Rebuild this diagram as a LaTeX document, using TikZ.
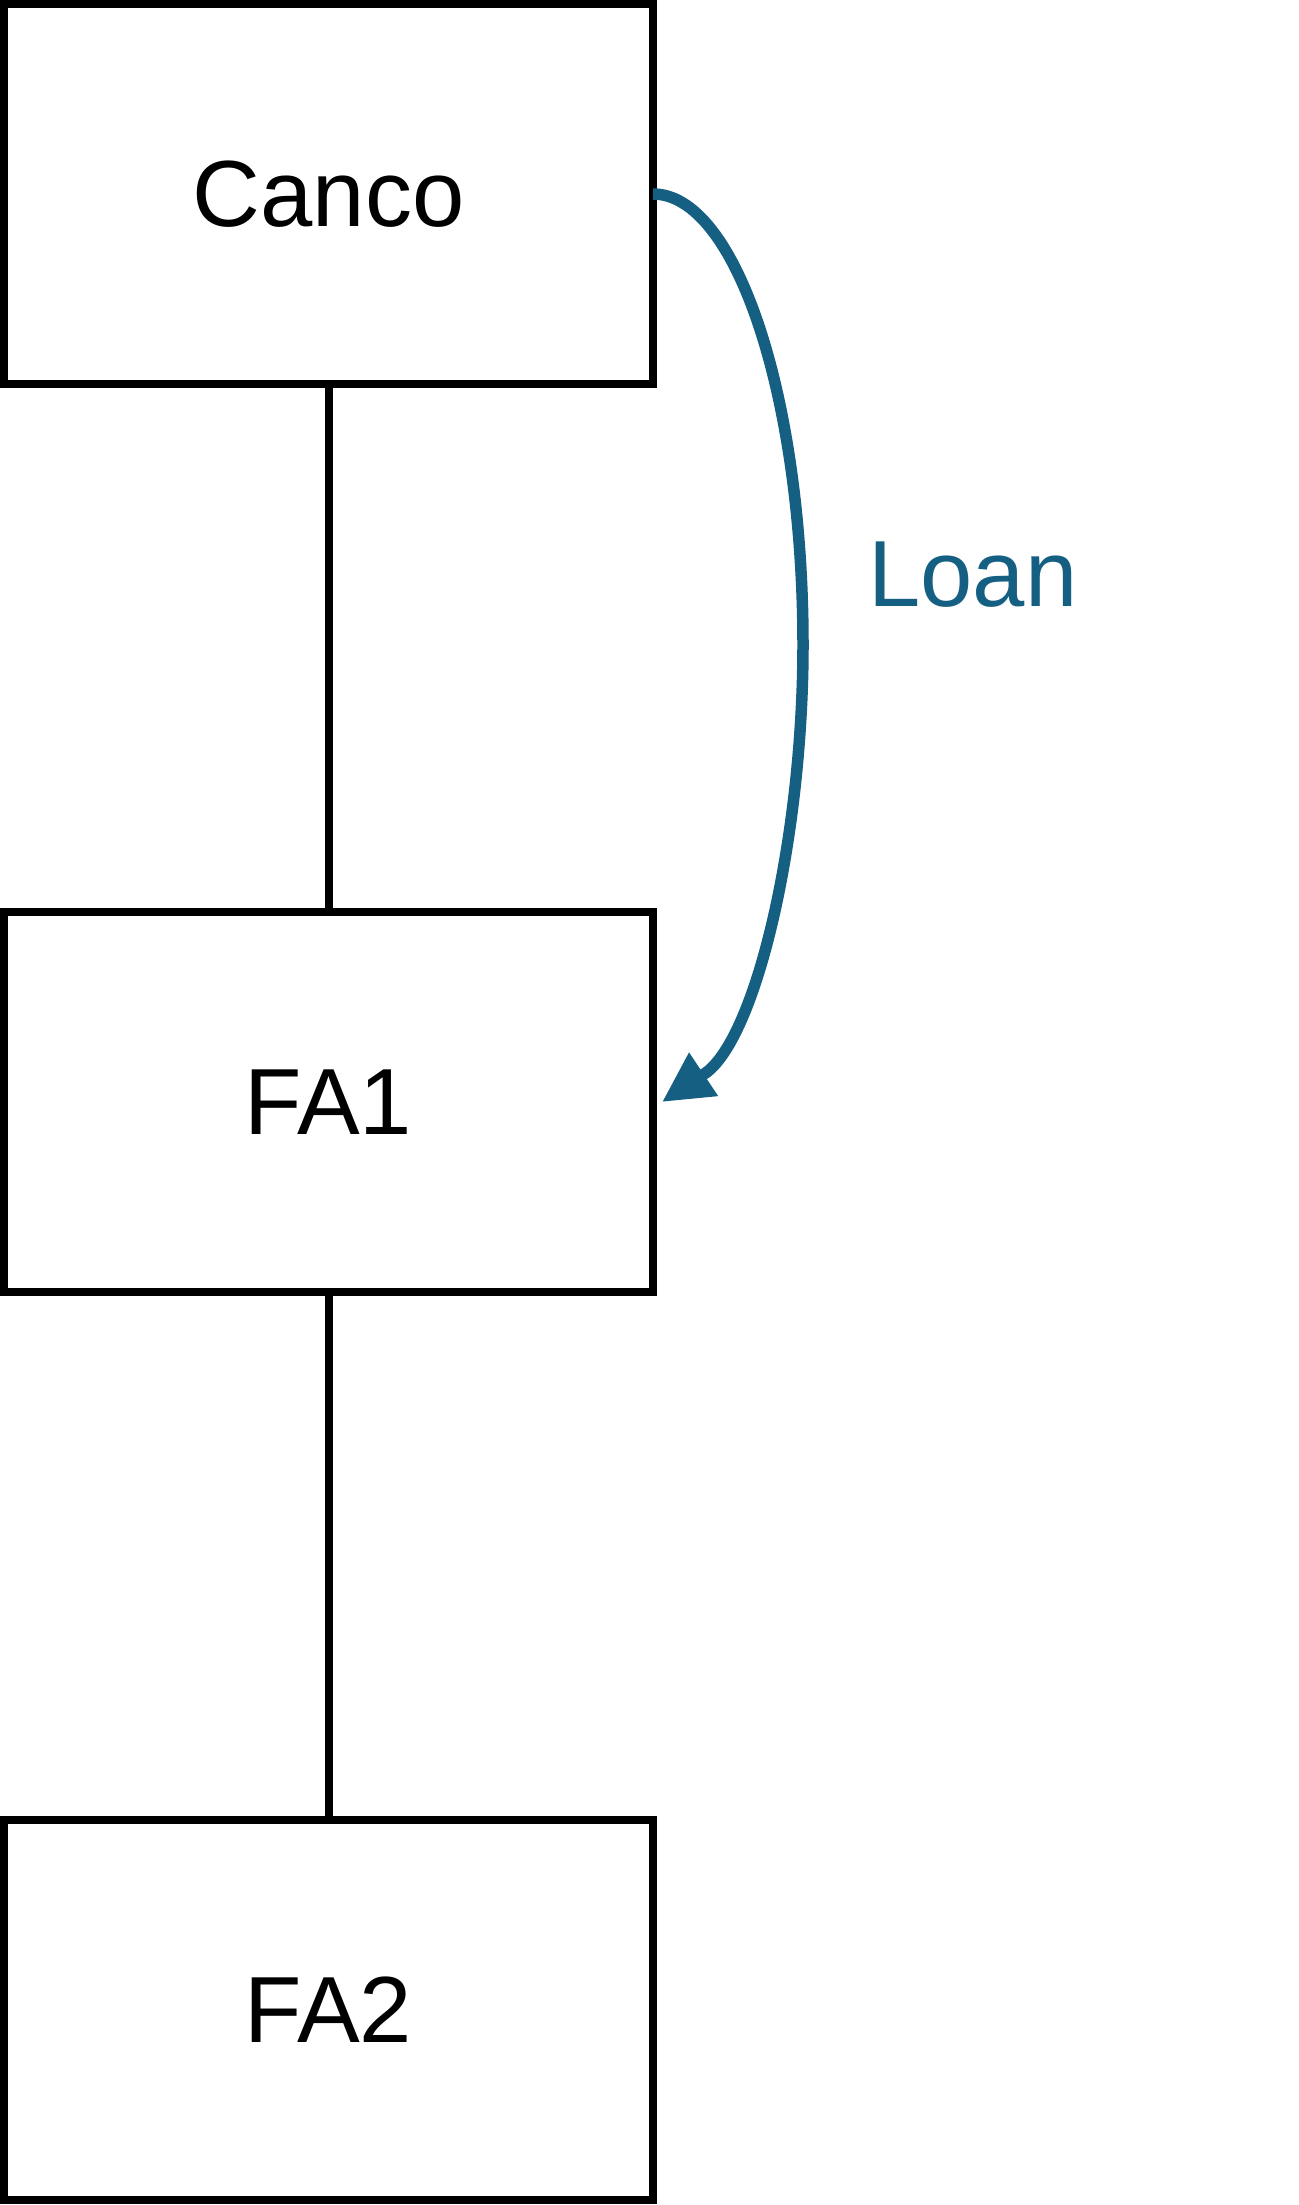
\documentclass[tikz,border=0pt]{standalone}
\usepackage{fontspec}
\setmainfont{Liberation Sans}
\usetikzlibrary{arrows.meta}
\definecolor{loanblue}{RGB}{21,96,130}
\begin{document}
\begin{tikzpicture}[x=1pt,y=-1pt,
  entity/.style={draw=black, line width=8pt, minimum width=649pt, minimum height=380pt,
    inner sep=0pt, outer sep=0pt, font=\fontsize{94}{110}\selectfont},
  link/.style={draw=black, line width=8pt},
  loan/.style={draw=loanblue, line width=11.5pt, -{Triangle[length=50pt,width=49pt]}},
  loanlabel/.style={text=loanblue, inner sep=0pt, font=\fontsize{94}{110}\selectfont}]
\useasboundingbox (0,0) rectangle (1298,2205);
\node[entity] (canco) at (328.5,194) {Canco};
\node[entity] (fa1) at (328.5,1102) {FA1};
\node[entity] (fa2) at (328.5,2010) {FA2};
\draw[link] (canco.south) -- (fa1.north);
\draw[link] (fa1.south) -- (fa2.north);
\coordinate (bend) at (803,645);
\coordinate (arrowbase) at (707,1072);
\draw[loan] (canco.east) .. controls +(83,0) and +(0,-248) .. (bend)
  .. controls +(0,189) and +(51,-40) .. (arrowbase)
  -- ([xshift=9pt]fa1.east);
\node[loanlabel] (loanlbl) at (973,575) {Loan};
\end{tikzpicture}
\end{document}
